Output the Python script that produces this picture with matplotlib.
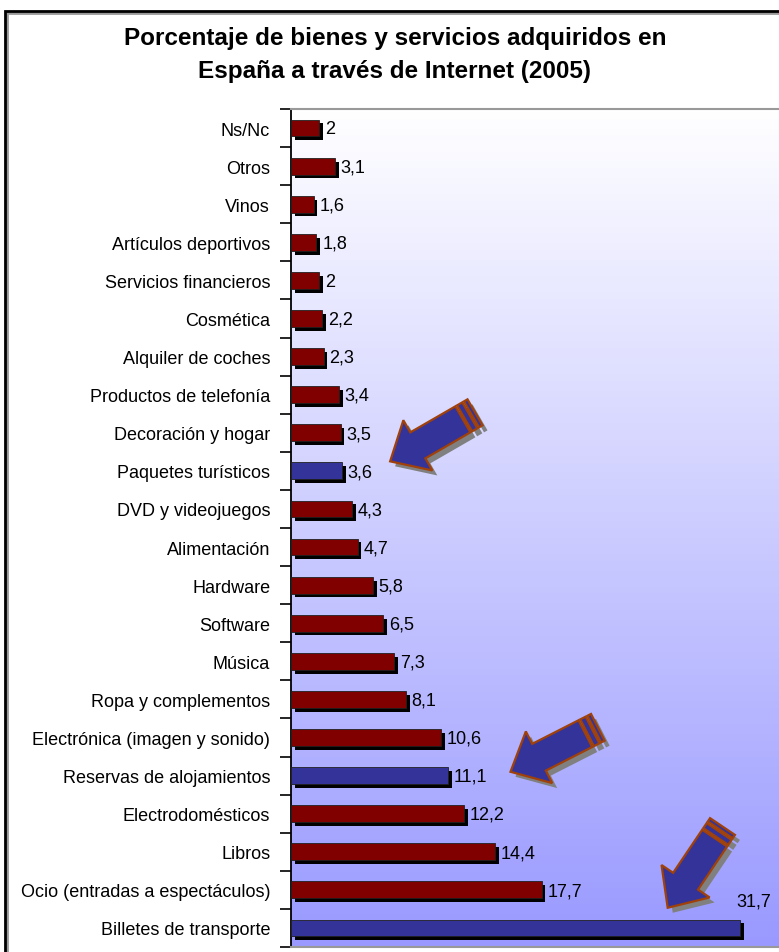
import numpy as np
import matplotlib.pyplot as plt
from matplotlib.patches import Polygon, Rectangle
from matplotlib.transforms import IdentityTransform

plt.rcParams['font.family'] = ['Liberation Sans', 'DejaVu Sans']

# data (top to bottom as in the chart)
categories = ['Ns/Nc', 'Otros', 'Vinos', 'Artículos deportivos', 'Servicios financieros',
              'Cosmética', 'Alquiler de coches', 'Productos de telefonía', 'Decoración y hogar',
              'Paquetes turísticos', 'DVD y videojuegos', 'Alimentación', 'Hardware', 'Software',
              'Música', 'Ropa y complementos', 'Electrónica (imagen y sonido)',
              'Reservas de alojamientos', 'Electrodomésticos', 'Libros',
              'Ocio (entradas a espectáculos)', 'Billetes de transporte']
values = [2, 3.1, 1.6, 1.8, 2, 2.2, 2.3, 3.4, 3.5, 3.6, 4.3, 4.7, 5.8, 6.5, 7.3, 8.1,
          10.6, 11.1, 12.2, 14.4, 17.7, 31.7]
highlighted = ['Paquetes turísticos', 'Reservas de alojamientos', 'Billetes de transporte']

# arrow annotations: tip position (value units, row) and angle in degrees
arrow_tips = [(7.0, 8.75), (15.5, 16.9), (26.6, 20.47)]
arrow_angles = [30, 27, 56]

W, H = 779, 953
fig = plt.figure(figsize=(W / 100, H / 100), dpi=100)
fig.patch.set_facecolor('white')

# outer frame (cropped at right and bottom)
fig.patches.append(Rectangle((7 / W, -0.1), 1.2, 1 - 14 / H + 0.1, transform=fig.transFigure,
                             fill=False, edgecolor='#999999', lw=2, zorder=0))
fig.patches.append(Rectangle((5 / W, -0.1), 1.2, 1 - 12 / H + 0.1, transform=fig.transFigure,
                             fill=False, edgecolor='black', lw=2, zorder=1))

top_px, bot_px, left_px = 110, 948, 291
ax = fig.add_axes([left_px / W, 1 - bot_px / H, 1 - left_px / W, (bot_px - top_px) / H])

n = len(categories)
y = np.arange(n)
ax.set_xlim(0, 34.46)
ax.set_ylim(n - 0.5, -0.5)

# gradient background
grad = np.linspace(0, 1, 256).reshape(-1, 1)
top_c = np.array([1.0, 1.0, 1.0])
bot_c = np.array([0x99, 0x99, 0xFF]) / 255
img = top_c + (bot_c - top_c) * grad[..., None]
ax.imshow(img, extent=[0, 1, 0, 1], transform=ax.transAxes, aspect='auto',
          origin='upper', zorder=0)

colors = ['#333399' if c in highlighted else '#800000' for c in categories]
bh = 0.44
# shadows
ax.barh(y + 0.1, values, left=0.27, height=bh, color='black', zorder=2)
ax.barh(y, values, height=bh, color=colors, edgecolor='#202020', linewidth=0.6, zorder=3)

for yi, v in zip(y, values):
    txt = f'{v:g}'.replace('.', ',')
    if v > 30:
        ax.text(v + 0.95, yi - 0.7, txt, ha='center', va='center', fontsize=13, zorder=5)
    else:
        ax.text(v + 0.4, yi + 0.02, txt, ha='left', va='center', fontsize=13, zorder=5)

ax.set_yticks(y)
ax.set_yticklabels(categories, fontsize=13)
ax.set_yticks(np.arange(n + 1) - 0.5, minor=True)
ax.tick_params(axis='y', which='major', length=0, pad=15)
ax.tick_params(axis='y', which='minor', length=8, width=1.2, color='black')
ax.set_xticks([])
ax.spines['left'].set_color('black')
ax.spines['left'].set_linewidth(1.3)
ax.spines['right'].set_visible(False)
for s in ('top', 'bottom'):
    ax.spines[s].set_color('#999999')
    ax.spines[s].set_linewidth(1.5)

fig.text(395 / W, 1 - 55 / H, 'Porcentaje de bienes y servicios adquiridos en\nEspaña a través de Internet (2005)',
         ha='center', va='center', fontsize=17.5, fontweight='bold', linespacing=1.58)


def arrow_outline(length=98, head=32, head_w=58, shaft_w=30):
    # local frame: tip at origin, arrow body along +s, t across
    body = length - 14
    main = [(0, 0), (head, head_w / 2), (head, shaft_w / 2), (body, shaft_w / 2),
            (body, -shaft_w / 2), (head, -shaft_w / 2), (head, -head_w / 2)]
    s1 = [(body + 2, shaft_w / 2), (body + 8, shaft_w / 2),
          (body + 8, -shaft_w / 2), (body + 2, -shaft_w / 2)]
    s2 = [(body + 10, shaft_w / 2), (body + 14, shaft_w / 2),
          (body + 14, -shaft_w / 2), (body + 10, -shaft_w / 2)]
    return [np.array(p, dtype=float) for p in (main, s1, s2)]


def place(pts, tip, ang):
    a = np.radians(ang)
    u = np.array([np.cos(a), np.sin(a)])
    v = np.array([-np.sin(a), np.cos(a)])
    return tip + pts[:, :1] * u + pts[:, 1:] * v


for (tx, ty), ang in zip(arrow_tips, arrow_angles):
    tip = ax.transData.transform((tx, ty))
    shapes = arrow_outline()
    for shp in shapes:
        p = place(shp, tip + np.array([5, -5]), ang)
        fig.patches.append(Polygon(p, closed=True, transform=IdentityTransform(),
                                   facecolor='#808080', edgecolor='none', zorder=6))
    for shp in shapes:
        p = place(shp, tip, ang)
        fig.patches.append(Polygon(p, closed=True, transform=IdentityTransform(),
                                   facecolor='#333399', edgecolor='#A0400A', lw=1.6, zorder=7))

fig.savefig('out.png', dpi=100)
